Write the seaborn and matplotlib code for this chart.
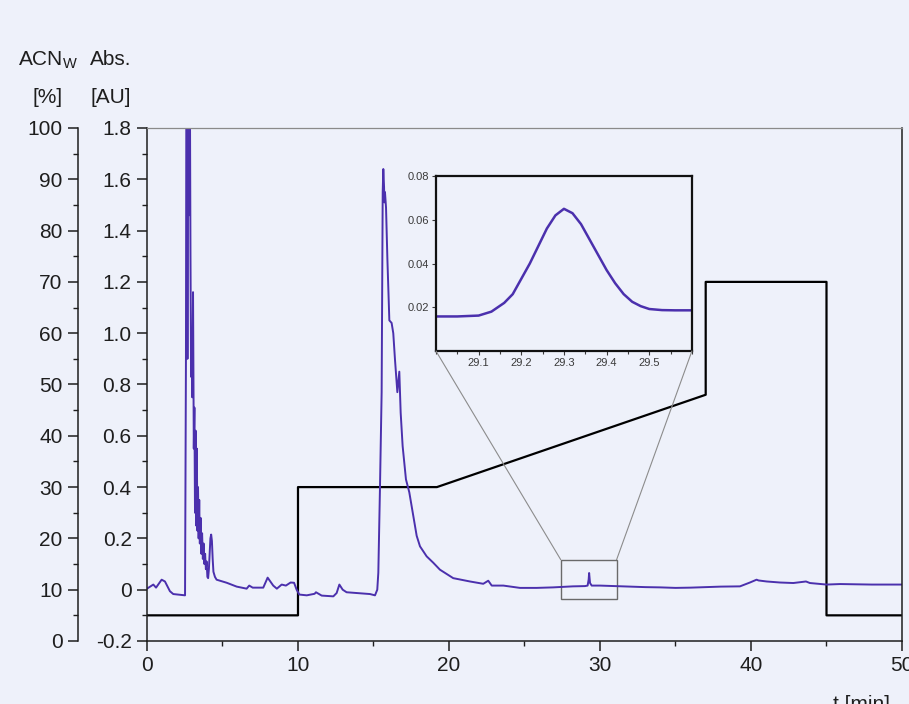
import seaborn as sns
import matplotlib.pyplot as plt
import pandas as pd
from matplotlib.patches import Rectangle, ConnectionPatch
from matplotlib.ticker import MultipleLocator, FuncFormatter

# chromatogram, absorbance [AU] vs time [min]
t_min = [0.0, 0.42, 0.6, 0.97, 1.19, 1.52, 1.74, 2.2, 2.52,
         2.58, 2.62, 2.66, 2.68, 2.72, 2.76, 2.80, 2.84, 2.88, 2.92, 2.96,
         3.00, 3.05, 3.10, 3.14, 3.18, 3.22, 3.26, 3.30, 3.34, 3.38,
         3.42, 3.46, 3.50, 3.55, 3.60, 3.65, 3.70, 3.75, 3.80, 3.85,
         3.90, 3.95, 4.00, 4.05, 4.10, 4.15, 4.20, 4.25, 4.30, 4.35,
         4.40, 4.50, 4.61, 5.28, 5.94, 6.6, 6.77, 7.0, 7.7, 7.99,
         8.36, 8.6, 8.92, 9.2, 9.51, 9.74, 9.91, 10.09, 10.58, 11.1,
         11.19, 11.57, 12.34, 12.56, 12.74, 12.96, 13.22, 13.9, 14.77, 15.1,
         15.25, 15.32, 15.43, 15.54, 15.61, 15.65, 15.7, 15.72, 15.76, 15.83,
         15.92, 16.05, 16.2, 16.31, 16.42, 16.58, 16.71, 16.8, 16.93, 17.15,
         17.37, 17.6, 17.86, 18.08, 18.52, 18.96, 19.4, 20.28, 21.39, 22.27,
         22.6, 22.83, 23.6, 24.7, 25.8, 26.9, 28.2, 29.0, 29.18, 29.25,
         29.28, 29.34, 29.45, 29.56, 30.0, 31.0, 32.0, 33.0, 34.0, 35.0,
         36.0, 37.0, 38.0, 39.0, 39.27, 39.93, 40.37, 40.5, 41.04, 41.92,
         42.8, 43.64, 43.9, 45.0, 45.9, 47.0, 48.0, 49.0, 50.0]
abs_au = [0.004, 0.02, 0.008, 0.039, 0.032, -0.006, -0.017, -0.02, -0.022,
          0.9, 2.5, 2.2, 0.90, 2.3, 1.9, 1.46, 2.0, 1.31, 0.83, 1.0,
          0.75, 1.16, 0.55, 0.71, 0.30, 0.62, 0.25, 0.55, 0.23, 0.40,
          0.20, 0.35, 0.18, 0.28, 0.14, 0.22, 0.12, 0.18, 0.10, 0.14,
          0.08, 0.11, 0.05, 0.045, 0.08, 0.14, 0.20, 0.215, 0.19, 0.12,
          0.07, 0.05, 0.039, 0.027, 0.012, 0.004, 0.016, 0.008, 0.008, 0.047,
          0.016, 0.004, 0.02, 0.016, 0.028, 0.027, 0.0, -0.019, -0.022, -0.016,
          -0.01, -0.023, -0.026, -0.013, 0.02, 0.0, -0.01, -0.013, -0.017, -0.022,
          0.0, 0.066, 0.40, 0.77, 1.55, 1.64, 1.57, 1.51, 1.55, 1.49,
          1.29, 1.05, 1.04, 1.0, 0.90, 0.77, 0.85, 0.69, 0.56, 0.43,
          0.38, 0.30, 0.21, 0.169, 0.13, 0.105, 0.078, 0.045, 0.032, 0.023,
          0.035, 0.016, 0.016, 0.007, 0.007, 0.009, 0.013, 0.014, 0.016, 0.04,
          0.065, 0.026, 0.016, 0.016, 0.016, 0.014, 0.012, 0.010, 0.009, 0.007,
          0.008, 0.010, 0.012, 0.013, 0.013, 0.028, 0.039, 0.036, 0.032, 0.028,
          0.026, 0.032, 0.026, 0.02, 0.022, 0.021, 0.02, 0.02, 0.02]

# solvent gradient, ACN_W [%]
grad_t = [0, 10, 10, 19.2, 37, 37, 45, 45, 50]
grad_pct = [5, 5, 30, 30, 48, 70, 70, 5, 5]

# zoomed peak at 29.3 min
zoom_t = [29.00, 29.05, 29.10, 29.13, 29.16, 29.18, 29.20, 29.22, 29.24, 29.26,
          29.28, 29.30, 29.32, 29.34, 29.36, 29.38, 29.40, 29.42, 29.44, 29.46,
          29.48, 29.50, 29.53, 29.56, 29.60]
zoom_au = [0.0158, 0.0158, 0.0162, 0.0180, 0.0220, 0.0260, 0.0330, 0.0400, 0.0480, 0.0560,
           0.0620, 0.0650, 0.0630, 0.0580, 0.0510, 0.0440, 0.0370, 0.0310, 0.0260, 0.0225,
           0.0205, 0.0192, 0.0187, 0.0186, 0.0186]

bg = '#eef1fa'
purple = '#4b30ad'
ink = '#1e1e1e'

sns.set_style('ticks')
plt.rcParams['font.family'] = ['Liberation Sans', 'DejaVu Sans']
plt.rcParams['mathtext.fontset'] = 'custom'
plt.rcParams['mathtext.rm'] = 'Liberation Sans'

chrom = pd.DataFrame({'t': t_min, 'au': abs_au})
grad = pd.DataFrame({'t': grad_t, 'pct': grad_pct})
peak = pd.DataFrame({'t': zoom_t, 'au': zoom_au})

fig = plt.figure(figsize=(9.09, 7.04), dpi=100, facecolor=bg)
ax = fig.add_axes([0.1617, 0.0895, 0.8306, 0.7287])
ax2 = ax.twinx()
ax.set_zorder(ax2.get_zorder() + 1)
ax.patch.set_visible(False)
ax2.patch.set_visible(False)

sns.lineplot(data=grad, x='t', y='pct', ax=ax2, color='black', lw=1.6,
             estimator=None, sort=False)
sns.lineplot(data=chrom, x='t', y='au', ax=ax, color=purple, lw=1.4,
             estimator=None, sort=False)

ax.set_xlim(0, 50)
ax.set_ylim(-0.2, 1.8)
ax2.set_ylim(0, 100)
ax.set_xlabel('')
ax.set_ylabel('')
ax2.set_ylabel('')

ax.xaxis.set_major_locator(MultipleLocator(10))
ax.xaxis.set_minor_locator(MultipleLocator(5))
ax.yaxis.set_major_locator(MultipleLocator(0.2))
ax.yaxis.set_minor_locator(MultipleLocator(0.1))
ax.yaxis.set_major_formatter(FuncFormatter(lambda v, p: '0' if abs(v) < 1e-9 else f'{v:.1f}'))
ax2.yaxis.set_major_locator(MultipleLocator(10))
ax2.yaxis.set_minor_locator(MultipleLocator(5))

for a in (ax, ax2):
    a.tick_params(which='major', direction='out', length=7, width=1.1,
                  labelsize=15, colors=ink, pad=4)
    a.tick_params(which='minor', direction='out', length=3.5, width=1.0, colors=ink)
ax.tick_params(top=False, right=False)

ax2.yaxis.tick_left()
ax2.spines['left'].set_position(('outward', 49.7))
for s in ('right', 'top', 'bottom'):
    ax2.spines[s].set_visible(False)
ax2.spines['left'].set_linewidth(1.1)
ax2.spines['left'].set_color(ink)

for s in ('left', 'bottom', 'right'):
    ax.spines[s].set_linewidth(1.1)
    ax.spines[s].set_color(ink)
ax.spines['top'].set_linewidth(0.9)
ax.spines['top'].set_color('#8a8a8a')

# box around the small peak
ax.add_patch(Rectangle((27.4, -0.036), 3.7, 0.153, fill=False, ec='#6a6a6a', lw=1.0))

# inset
axin = fig.add_axes([0.4796, 0.5014, 0.2816, 0.2486])
axin.patch.set_visible(False)
sns.lineplot(data=peak, x='t', y='au', ax=axin, color=purple, lw=1.8,
             estimator=None, sort=False)
axin.set_xlim(29.0, 29.6)
axin.set_ylim(0, 0.08)
axin.set_xticks([29.1, 29.2, 29.3, 29.4, 29.5])
axin.set_xticklabels(['29.1', '29.2', '29.3', '29.4', '29.5'])
axin.set_yticks([0.02, 0.04, 0.06, 0.08])
axin.set_yticklabels(['0.02', '0.04', '0.06', '0.08'])
axin.xaxis.set_minor_locator(MultipleLocator(0.05))
axin.set_xlabel('')
axin.set_ylabel('')
axin.tick_params(which='major', direction='out', length=3, width=0.8,
                 labelsize=8, colors='#3a3a3a', pad=2)
axin.tick_params(which='minor', direction='out', length=2, width=0.8, colors='#3a3a3a')
for s in axin.spines.values():
    s.set_linewidth(1.6)
    s.set_color('#111111')

for xa, xb in (((0, 0), (27.4, 0.117)), ((1, 0), (31.1, 0.117))):
    con = ConnectionPatch(xyA=xa, coordsA=axin.transAxes, xyB=xb, coordsB=ax.transData,
                          color='#8c8c8c', lw=0.8)
    fig.add_artist(con)

# axis titles
fig.text(18 / 909, 1 - 65 / 704, r'ACN$_{\mathregular{W}}$', fontsize=15, color=ink, va='baseline')
fig.text(90 / 909, 1 - 65 / 704, 'Abs.', fontsize=15, color=ink, va='baseline')
fig.text(33 / 909, 1 - 103 / 704, '[%]', fontsize=15, color=ink, va='baseline')
fig.text(91 / 909, 1 - 103 / 704, '[AU]', fontsize=15, color=ink, va='baseline')
fig.text(833 / 909, -6 / 704, 't [min]', fontsize=15, color=ink, va='baseline')

plt.savefig('out.png', dpi=100, facecolor=bg)
